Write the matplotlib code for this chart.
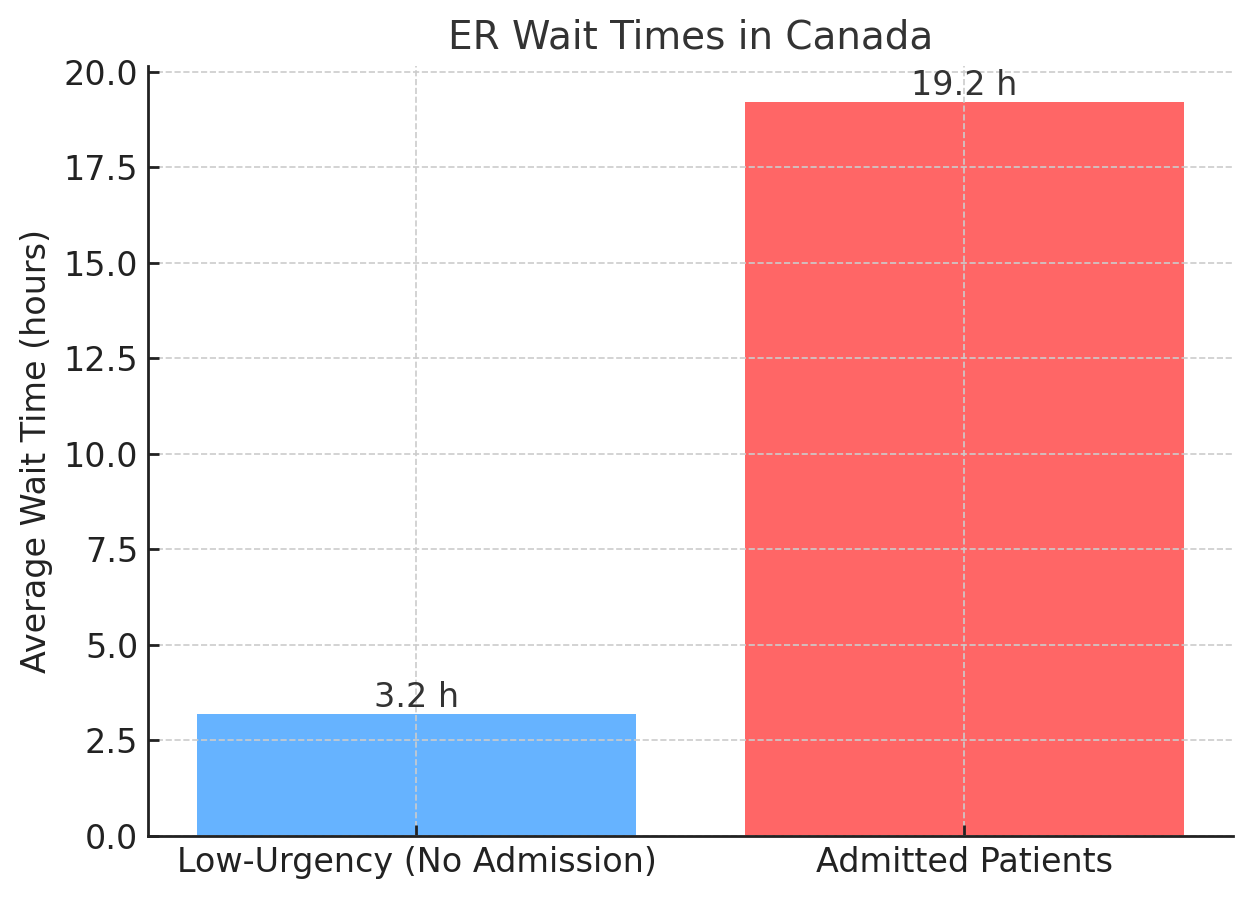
import matplotlib.pyplot as plt

categories = ['Low-Urgency (No Admission)', 'Admitted Patients']
wait_hours = [3.2, 19.2]
bar_colors = ['#66b3ff', '#ff6666']

plt.rcParams['font.family'] = 'DejaVu Sans'

fig, ax = plt.subplots(figsize=(6.265, 4.495), dpi=200)
plt.subplots_adjust(left=0.1181, right=0.984, top=0.927, bottom=0.0701)

bars = ax.bar(categories, wait_hours, color=bar_colors, width=0.8)

for rect, v in zip(bars, wait_hours):
    ax.text(rect.get_x() + rect.get_width() / 2, v, f'{v} h',
            ha='center', va='bottom', fontsize=12, color='#333333')

ax.set_title('ER Wait Times in Canada', fontsize=14, color='#333333')
ax.set_ylabel('Average Wait Time (hours)', fontsize=12, color='#222222')
ax.tick_params(axis='both', direction='in', labelsize=12, colors='#222222',
               length=4, width=1)
ax.grid(True, linestyle='--', color='#cccccc', linewidth=0.6)

for side in ['top', 'right']:
    ax.spines[side].set_visible(False)
for side in ['left', 'bottom']:
    ax.spines[side].set_color('#222222')
    ax.spines[side].set_linewidth(1)

fig.savefig('out.png', dpi=200)
